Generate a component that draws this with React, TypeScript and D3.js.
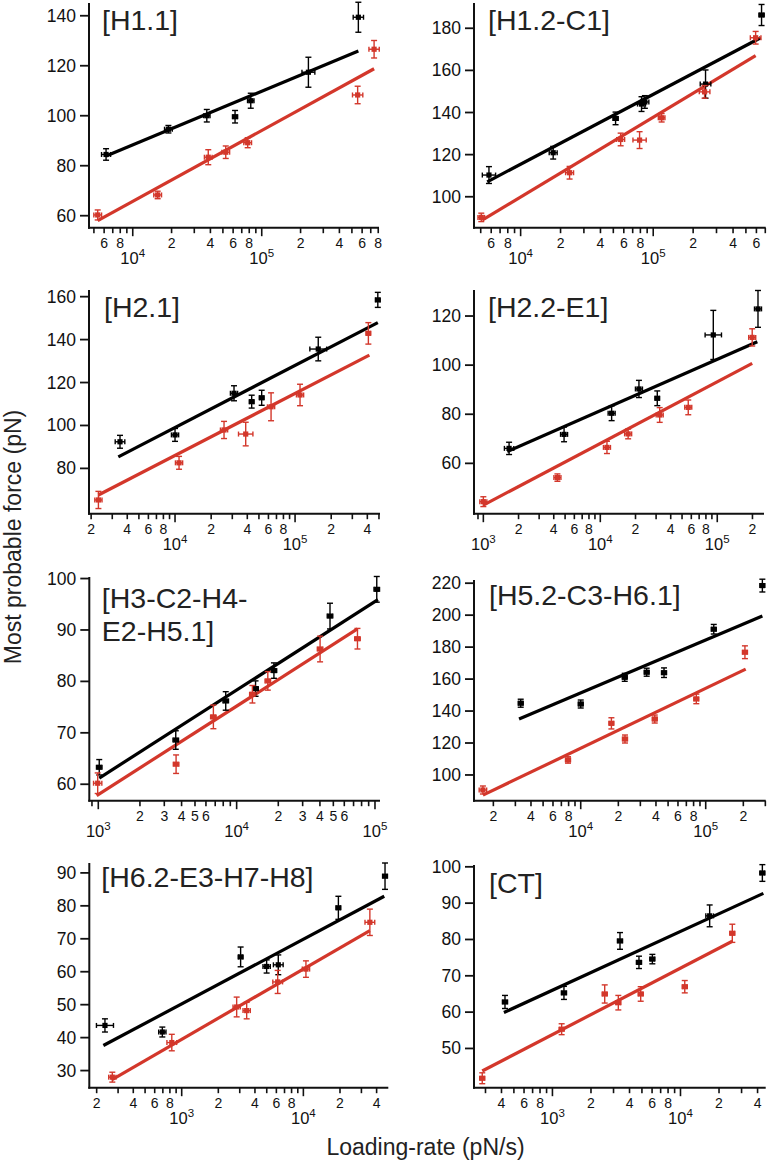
import React from 'react';
import * as d3 from 'd3';

// point: [loading rate, force, force error, log10 half-width of rate error]
type Pt = [number, number, number, number];
type Fit = [[number, number], [number, number]];

const H11_black: Pt[] = [[6210, 84.5, 2.3, 0.035], [18900, 94.6, 1.5, 0.03], [37500, 100, 2.5, 0.025], [62100, 99.6, 2.5, 0.02], [82200, 106, 3, 0.025], [230000, 117.4, 6, 0.05], [561000, 139.4, 6, 0.04]];
const H11_red: Pt[] = [[5350, 60.3, 2, 0.03], [15600, 68.3, 1.5, 0.03], [38500, 83.4, 3, 0.03], [52600, 85.4, 2.5, 0.03], [77800, 89.2, 2, 0.03], [554000, 108.3, 3.5, 0.04], [743000, 126.6, 3.5, 0.04]];
const H11_blackFit: Fit = [[6210, 83.9], [561000, 125.9]];
const H11_redFit: Fit = [[5350, 58], [743000, 118.8]];

const H12_black: Pt[] = [[5770, 110.3, 4, 0.05], [17600, 120.9, 3, 0.03], [52000, 137.2, 3, 0.02], [81600, 144, 3.5, 0.03], [86500, 145, 3, 0.03], [248000, 153.5, 6.7, 0.04], [656000, 186.3, 5, 0.02]];
const H12_red: Pt[] = [[5050, 90.2, 2, 0.025], [23400, 111.4, 3, 0.03], [56800, 127.2, 3, 0.03], [78900, 126.9, 4, 0.05], [115700, 137.5, 2, 0.025], [244000, 149.8, 3, 0.04], [592000, 175.5, 3, 0.04]];
const H12_blackFit: Fit = [[5600, 107.1], [646000, 175.5]];
const H12_redFit: Fit = [[5130, 88.9], [592000, 167]];

const H21_black: Pt[] = [[3480, 92.4, 3, 0.04], [10000, 95.6, 3, 0.03], [31000, 115, 3.5, 0.03], [43500, 111.1, 3, 0.02], [52700, 112.9, 3.5, 0.02], [156000, 135.6, 5.5, 0.07], [489000, 158.5, 3.5, 0.02]];
const H21_red: Pt[] = [[2300, 65.3, 4, 0.03], [10800, 82.6, 3, 0.03], [25600, 97.9, 4, 0.03], [38800, 96, 5.5, 0.06], [63100, 108.7, 6.5, 0.03], [110000, 114.2, 5, 0.03], [408000, 142.9, 5, 0.02]];
const H21_blackFit: Fit = [[3370, 85.4], [489000, 147.9]];
const H21_redFit: Fit = [[2300, 67.6], [416000, 132.8]];

const H22_black: Pt[] = [[1660, 66.1, 2.5, 0.04], [4900, 71.8, 3, 0.03], [12500, 80.4, 3, 0.03], [21400, 90.3, 3.5, 0.03], [30700, 86.5, 3, 0.02], [92500, 112.3, 10, 0.07], [223000, 122.9, 7.5, 0.03]];
const H22_red: Pt[] = [[1000, 44.4, 2, 0.03], [4300, 54.2, 1.5, 0.03], [11400, 66.5, 2.5, 0.03], [17300, 72, 2, 0.03], [32200, 79.7, 3, 0.03], [56500, 82.8, 3, 0.03], [199000, 111.3, 3.5, 0.03]];
const H22_blackFit: Fit = [[1600, 64.8], [220000, 109.5]];
const H22_redFit: Fit = [[1000, 43], [199000, 100.7]];

const H3_black: Pt[] = [[1016, 63.3, 1.5, 0.02], [3630, 68.6, 1.8, 0.02], [8340, 76.2, 1.8, 0.02], [13700, 78.6, 1.5, 0.02], [18600, 82.1, 1.5, 0.02], [47300, 92.7, 2.5, 0.02], [103000, 97.9, 2.5, 0.02]];
const H3_red: Pt[] = [[990, 60.2, 2, 0.03], [3650, 63.9, 1.8, 0.02], [6790, 73.1, 2.3, 0.02], [13000, 77.5, 1.7, 0.02], [16800, 80.1, 1.8, 0.02], [40100, 86.3, 2.5, 0.02], [74700, 88.3, 2, 0.02]];
const H3_blackFit: Fit = [[1016, 61.2], [105000, 95.9]];
const H3_redFit: Fit = [[973, 57.8], [74700, 90.2]];

const H52_black: Pt[] = [[3310, 144.9, 2.5, 0.02], [10000, 144.4, 2.5, 0.02], [22500, 161.1, 2.5, 0.02], [33700, 164.3, 2.5, 0.02], [46400, 164, 3, 0.02], [116000, 191.2, 3, 0.02], [284000, 218.5, 4, 0.02]];
const H52_red: Pt[] = [[1650, 90.6, 2.5, 0.03], [7910, 109.4, 2, 0.02], [17600, 132.3, 3.5, 0.02], [22600, 122.5, 2.5, 0.02], [39100, 135, 2.5, 0.02], [84100, 147.6, 3, 0.02], [206000, 176.8, 4, 0.02]];
const H52_blackFit: Fit = [[3210, 135], [284000, 199.5]];
const H52_redFit: Fit = [[1650, 87.4], [209000, 166.2]];

const H62_black: Pt[] = [[234, 43.7, 2, 0.07], [693, 41.7, 1.5, 0.03], [3050, 64.5, 3, 0.02], [4990, 61.6, 2, 0.03], [6220, 62.1, 3, 0.04], [19400, 79.4, 3.5, 0.02], [46900, 89, 4, 0.02]];
const H62_red: Pt[] = [[269, 28, 1.5, 0.03], [829, 38.5, 2.5, 0.04], [2830, 49.3, 3, 0.03], [3420, 48.2, 2.5, 0.03], [6150, 56.9, 3.5, 0.04], [10500, 60.8, 2.5, 0.03], [35200, 75, 4, 0.04]];
const H62_blackFit: Fit = [[227, 37.6], [46200, 82.9]];
const H62_redFit: Fit = [[266, 27.2], [35200, 72.5]];

const CT_black: Pt[] = [[426, 62.8, 1.8, 0.02], [1230, 65.3, 1.8, 0.02], [3370, 79.6, 2.3, 0.02], [4740, 73.7, 1.7, 0.02], [6030, 74.6, 1.3, 0.02], [16900, 86.5, 3, 0.03], [43600, 98.3, 2.3, 0.02]];
const CT_red: Pt[] = [[283, 41.8, 1.5, 0.02], [1180, 55.3, 1.5, 0.02], [2560, 65, 2.5, 0.02], [3270, 62.6, 2, 0.02], [4890, 65, 2, 0.02], [10800, 67, 1.7, 0.02], [25400, 81.7, 2.5, 0.02]];
const CT_blackFit: Fit = [[418, 59.9], [44400, 92.7]];
const CT_redFit: Fit = [[283, 43.8], [25400, 79.5]];

const panelLabels: string[][] = [['[H1.1]'], ['[H1.2-C1]'], ['[H2.1]'], ['[H2.2-E1]'], ['[H3-C2-H4-', 'E2-H5.1]'], ['[H5.2-C3-H6.1]'], ['[H6.2-E3-H7-H8]'], ['[CT]']];
const xDomains: [number, number][] = [[4580, 8.11e5], [4450, 7.05e5], [1920, 5.1e5], [832, 2.51e5], [861, 1.087e5], [1400, 3.02e5], [174, 49900], [244, 46300]];
const yDomains: [number, number][] = [[55.2, 145.1], [85.3, 192], [58.9, 163.1], [39.5, 130.6], [56.8, 100.3], [83.9, 222], [24.8, 93], [39.2, 100.5]];
const yTickValues: number[][] = [[60, 80, 100, 120, 140], [100, 120, 140, 160, 180], [80, 100, 120, 140, 160], [60, 80, 100, 120], [60, 70, 80, 90, 100], [100, 120, 140, 160, 180, 200, 220], [30, 40, 50, 60, 70, 80, 90], [50, 60, 70, 80, 90, 100]];
const minorTickLabels: number[][] = [[2, 4, 6, 8], [2, 4, 6, 8], [2, 4, 6, 8], [2, 4, 6, 8], [2, 3, 4, 5, 6], [2, 4, 6, 8], [2, 4, 6, 8], [2, 4, 6, 8]];
const blackSeries = [H11_black, H12_black, H21_black, H22_black, H3_black, H52_black, H62_black, CT_black];
const redSeries = [H11_red, H12_red, H21_red, H22_red, H3_red, H52_red, H62_red, CT_red];
const blackFits = [H11_blackFit, H12_blackFit, H21_blackFit, H22_blackFit, H3_blackFit, H52_blackFit, H62_blackFit, CT_blackFit];
const redFits = [H11_redFit, H12_redFit, H21_redFit, H22_redFit, H3_redFit, H52_redFit, H62_redFit, CT_redFit];

const xTitle = 'Loading-rate (pN/s)';
const yTitle = 'Most probable force (pN)';

// layout (pixels)
const boxes = [
  { left: 89, right: 379, top: 3, bottom: 227.7, lx: 13, ly: 27 },
  { left: 474, right: 765.7, top: 3, bottom: 227.7, lx: 14, ly: 27 },
  { left: 89, right: 380, top: 290, bottom: 513.7, lx: 15, ly: 27 },
  { left: 474, right: 764, top: 290, bottom: 513.7, lx: 14, ly: 27 },
  { left: 89.3, right: 380, top: 577, bottom: 800.7, lx: 12.5, ly: 31 },
  { left: 474, right: 765.7, top: 580, bottom: 800.7, lx: 15, ly: 25 },
  { left: 89.3, right: 388.3, top: 863, bottom: 1087.7, lx: 12, ly: 24 },
  { left: 474, right: 765.7, top: 865, bottom: 1087.7, lx: 15, ly: 28 },
];

const FONT = "'Liberation Sans', Arial, Helvetica, sans-serif";
const RED = '#d3372b';
const INK = '#111';

function Series({ pts, x, y, color }: { pts: Pt[]; x: any; y: any; color: string }) {
  return (
    <g stroke={color} fill={color}>
      {pts.map((p, i) => {
        const cx = x(p[0]);
        const cy = y(p[1]);
        const y1 = y(p[1] + p[2]);
        const y2 = y(p[1] - p[2]);
        const x1 = x(p[0] / Math.pow(10, p[3]));
        const x2 = x(p[0] * Math.pow(10, p[3]));
        return (
          <g key={i} strokeWidth={1.4}>
            <line x1={cx} x2={cx} y1={y1} y2={y2} />
            <line x1={cx - 3} x2={cx + 3} y1={y1} y2={y1} />
            <line x1={cx - 3} x2={cx + 3} y1={y2} y2={y2} />
            <line x1={x1} x2={x2} y1={cy} y2={cy} />
            <line x1={x1} x2={x1} y1={cy - 2.5} y2={cy + 2.5} />
            <line x1={x2} x2={x2} y1={cy - 2.5} y2={cy + 2.5} />
            <rect x={cx - 2.6} y={cy - 2.6} width={5.2} height={5.2} stroke="none" />
          </g>
        );
      })}
    </g>
  );
}

function Panel({ i }: { i: number }) {
  const b = boxes[i];
  const x = d3.scaleLog().domain(xDomains[i]).range([b.left, b.right]);
  const y = d3.scaleLinear().domain(yDomains[i]).range([b.bottom, b.top]);
  const ticks = x.ticks();
  const line = d3.line<[number, number]>().x((d) => x(d[0])).y((d) => y(d[1]));
  return (
    <g>
      <path d={line(blackFits[i] as any) || ''} stroke="#000" strokeWidth={3.2} fill="none" />
      <path d={line(redFits[i] as any) || ''} stroke={RED} strokeWidth={3.2} fill="none" />
      <Series pts={blackSeries[i]} x={x} y={y} color="#000" />
      <Series pts={redSeries[i]} x={x} y={y} color={RED} />
      {/* axes */}
      <line x1={b.left} x2={b.left} y1={b.top} y2={b.bottom + 1} stroke={INK} strokeWidth={2} />
      <line x1={b.left - 1} x2={b.right} y1={b.bottom} y2={b.bottom} stroke={INK} strokeWidth={2} />
      {yTickValues[i].map((v) => (
        <g key={v}>
          <line x1={b.left - 9} x2={b.left} y1={y(v)} y2={y(v)} stroke={INK} strokeWidth={1.8} />
          <text x={b.left - 13} y={y(v) + 6} textAnchor="end" fontSize={17.5} fontFamily={FONT} fill={INK}>
            {v}
          </text>
        </g>
      ))}
      {ticks.map((v, k) => {
        const e = Math.floor(Math.log10(v) + 1e-9);
        const m = Math.round(v / Math.pow(10, e));
        const px = x(v);
        const major = m === 1;
        return (
          <g key={k}>
            <line x1={px} x2={px} y1={b.bottom} y2={b.bottom + (major ? 8.5 : 5.5)} stroke={INK} strokeWidth={1.6} />
            {!major && minorTickLabels[i].includes(m) && (
              <text x={px} y={b.bottom + 19.8} textAnchor="middle" fontSize={14} fontFamily={FONT} fill={INK}>
                {m}
              </text>
            )}
            {major && (
              <text x={px} y={b.bottom + 36.3} textAnchor="middle" fontSize={16.5} fontFamily={FONT} fill={INK}>
                10
                <tspan fontSize={11.5} dy={-6.8}>
                  {e}
                </tspan>
              </text>
            )}
          </g>
        );
      })}
      <text x={b.left + b.lx} y={b.top + b.ly} fontSize={28.5} fontFamily={FONT} fill="#222">
        {panelLabels[i].map((s, k) => (
          <tspan key={k} x={b.left + b.lx} dy={k === 0 ? 0 : 33.4}>
            {s}
          </tspan>
        ))}
      </text>
    </g>
  );
}

export default function App() {
  return (
    <svg
      width={768}
      height={1163}
      viewBox="0 0 768 1163"
      style={{ position: 'absolute', left: 0, top: 0, display: 'block', background: '#fff' }}
    >
      <rect width={768} height={1163} fill="#fff" />
      {boxes.map((_, i) => (
        <Panel key={i} i={i} />
      ))}
      <text x={425.5} y={1155} textAnchor="middle" fontSize={23} fontFamily={FONT} fill="#222">
        {xTitle}
      </text>
      <text
        transform="translate(21,537) rotate(-90)"
        textAnchor="middle"
        fontSize={23}
        fontFamily={FONT}
        fill="#222"
      >
        {yTitle}
      </text>
    </svg>
  );
}
